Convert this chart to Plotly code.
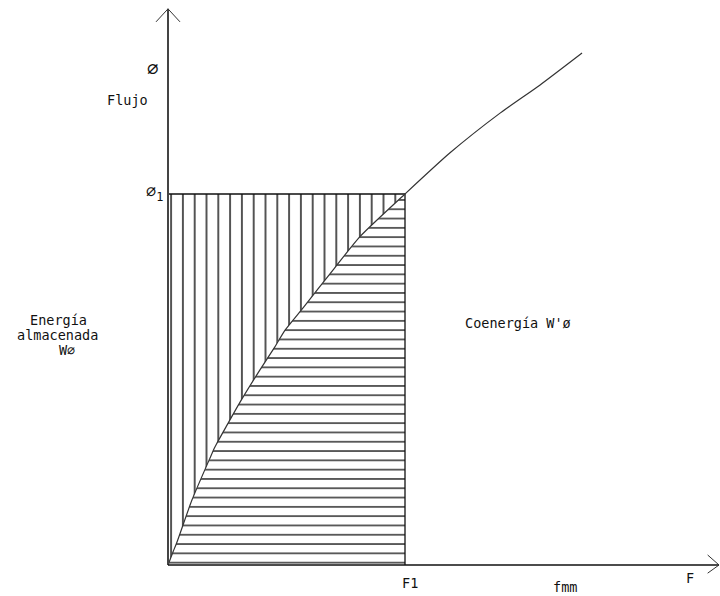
import plotly.graph_objects as go

# Magnetization curve (F normalised to F1, flux normalised to phi1)
curve_F = [0.0, 0.021, 0.038, 0.101, 0.177, 0.198, 0.249, 0.304, 0.388, 0.451,
           0.494, 0.570, 0.696, 0.810, 1.0, 1.190, 1.401, 1.570, 1.747]
curve_phi = [0.0, 0.035, 0.062, 0.175, 0.288, 0.318, 0.377, 0.439, 0.526, 0.588,
             0.633, 0.693, 0.795, 0.885, 1.0, 1.111, 1.218, 1.294, 1.380]

F1 = 1.0
PHI1 = 1.0
y_axis_top = 1.499
x_axis_end = 2.325

labels = {
    "phi": "∅",
    "flujo": "Flujo",
    "phi1": "∅<sub>1</sub>",
    "energia": ["Energía", "almacenada", "W∅"],
    "coenergia": "Coenergía W'ø",
    "F1": "F1",
    "fmm": "fmm",
    "F": "F",
}

FONT = "DejaVu Sans Mono"
INK = "#111111"

fig = go.Figure()

seg_F = [f for f in curve_F if f <= F1]
seg_phi = curve_phi[:len(seg_F)]

# vertical hatching: between phi axis and curve, below phi1
fig.add_trace(go.Scatter(
    x=seg_F + [0.0, 0.0], y=seg_phi + [PHI1, 0.0],
    mode="lines", line=dict(width=0, color=INK), fill="toself",
    fillcolor="white",
    fillpattern=dict(shape="|", size=11.8, solidity=0.12, fgcolor=INK,
                     bgcolor="white", fillmode="replace"),
    hoverinfo="skip"))

# horizontal hatching: between curve and F axis, left of F1
fig.add_trace(go.Scatter(
    x=seg_F + [F1, 0.0], y=seg_phi + [0.0, 0.0],
    mode="lines", line=dict(width=0, color=INK), fill="toself",
    fillcolor="white",
    fillpattern=dict(shape="-", size=9.3, solidity=0.14, fgcolor=INK,
                     bgcolor="white", fillmode="replace"),
    hoverinfo="skip"))

# rectangle edges phi1 and F1
fig.add_trace(go.Scatter(x=[0.0, F1, F1], y=[PHI1, PHI1, 0.0], mode="lines",
                         line=dict(width=1.3, color=INK), hoverinfo="skip"))

# curve
fig.add_trace(go.Scatter(x=curve_F, y=curve_phi, mode="lines",
                         line=dict(width=1.2, color="#333", shape="spline", smoothing=0.6),
                         hoverinfo="skip"))

# phi axis with open arrow
ax_dx = 0.0506
ax_dy = 0.035
fig.add_trace(go.Scatter(x=[0, 0], y=[0, y_axis_top], mode="lines",
                         line=dict(width=2, color="#444"), hoverinfo="skip"))
fig.add_trace(go.Scatter(x=[-ax_dx, 0, ax_dx],
                         y=[y_axis_top - ax_dy, y_axis_top, y_axis_top - ax_dy],
                         mode="lines", line=dict(width=1, color="#333"),
                         hoverinfo="skip"))

# F axis with open arrow
fig.add_trace(go.Scatter(x=[0, x_axis_end], y=[0, 0], mode="lines",
                         line=dict(width=1.3, color=INK), hoverinfo="skip"))
fig.add_trace(go.Scatter(x=[x_axis_end - 0.048, x_axis_end, x_axis_end - 0.048],
                         y=[0.027, 0, -0.022], mode="lines",
                         line=dict(width=1, color="#333"), hoverinfo="skip"))

def txt(x, y, s, size=13.5):
    fig.add_annotation(x=x, y=y, text=s, showarrow=False, xanchor="center",
                       yanchor="middle", font=dict(family=FONT, size=size, color="#111"))

txt(-0.0675, 1.340, labels["phi"], 19)
txt(-0.173, 1.253, labels["flujo"])
txt(-0.058, 1.003, labels["phi1"], 17)
txt(-0.464, 0.660, labels["energia"][0])
txt(-0.468, 0.620, labels["energia"][1])
txt(-0.426, 0.580, labels["energia"][2])
txt(1.477, 0.652, labels["coenergia"])
txt(1.021, -0.0485, labels["F1"])
txt(1.675, -0.058, labels["fmm"])
txt(2.203, -0.035, labels["F"])

fig.update_layout(
    width=720, height=596, margin=dict(l=0, r=0, t=0, b=0),
    paper_bgcolor="white", plot_bgcolor="white", showlegend=False,
    xaxis=dict(range=[-168 / 237, 552 / 237], visible=False, fixedrange=True),
    yaxis=dict(range=[-31 / 371, 565 / 371], visible=False, fixedrange=True),
)

fig.write_html("out.html", config={"displayModeBar": False},
               post_script="document.body.style.margin='0';document.body.style.overflow='hidden';")
